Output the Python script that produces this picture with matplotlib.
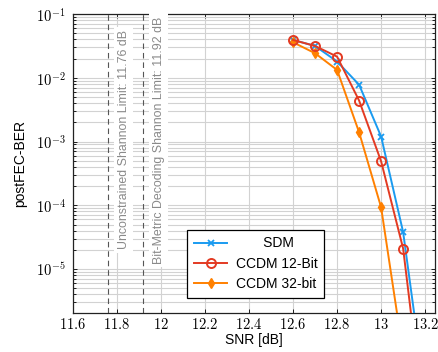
import matplotlib
matplotlib.use('Agg')
import matplotlib.pyplot as plt
import matplotlib.transforms as mtransforms
import numpy as np

# Data
snr = [12.6, 12.7, 12.8, 12.9, 13.0, 13.1, 13.2]
ber_sdm = [0.0393, 0.0316, 0.018, 0.0078, 0.0012, 3.8e-5, 1.1e-7]
ber_ccdm12 = [0.0393, 0.0316, 0.0215, 0.0044, 4.9e-4, 2.1e-5, 3e-8]
snr_ccdm32 = [12.6, 12.7, 12.8, 12.9, 13.0, 13.1]
ber_ccdm32 = [0.0361, 0.0243, 0.0133, 0.0014, 9.3e-5, 4.7e-7]

limits = [11.76, 11.92]
limit_labels = ['Unconstrained Shannon Limit: 11.76 dB',
                'Bit-Metric Decoding Shannon Limit: 11.92 dB']

xticks = [11.6, 11.8, 12.0, 12.2, 12.4, 12.6, 12.8, 13.0, 13.2]
xticklabels = ['11.6', '11.8', '12', '12.2', '12.4', '12.6', '12.8', '13', '13.2']
yticks = [1e-5, 1e-4, 1e-3, 1e-2, 1e-1]
yticklabels = [r'$10^{-5}$', r'$10^{-4}$', r'$10^{-3}$', r'$10^{-2}$', r'$10^{-1}$']

plt.rcParams['font.family'] = ['Liberation Sans', 'DejaVu Sans']
plt.rcParams['mathtext.fontset'] = 'cm'

fig = plt.figure(figsize=(4.39, 3.52), dpi=100)
ax = fig.add_axes([0.166, 0.111, 0.825, 0.849])

c_sdm = '#1a9bf0'
c_12 = '#e33a22'
c_32 = '#ff8000'

l1, = ax.plot(snr, ber_sdm, color=c_sdm, lw=1.4, marker='x', ms=4.5, mew=1.3,
              label='SDM', zorder=4)
l3, = ax.plot(snr_ccdm32, ber_ccdm32, color=c_32, lw=1.4, marker='d', ms=5,
              label='CCDM 32-bit', zorder=4)
l2, = ax.plot(snr, ber_ccdm12, color=c_12, lw=1.4, marker='o', ms=6.5, mew=1.4,
              mfc='none', label='CCDM 12-Bit', zorder=5)

# Shannon limits
trans = mtransforms.blended_transform_factory(ax.transData, ax.transAxes)
for x, txt in zip(limits, limit_labels):
    ax.axvline(x, color='#555555', lw=0.8, ls=(0, (5, 3.5)), zorder=2)
    ax.text(x + 0.07, 0.579, txt, transform=trans, rotation=90,
            ha='center', va='center', fontsize=8.9, color='#8a8a8a', zorder=3,
            bbox=dict(facecolor='white', edgecolor='none', pad=2.5))

ax.set_yscale('log')
ax.set_xlim(11.6, 13.245)
ax.set_ylim(2.05e-6, 0.1)

ax.set_xticks(xticks)
ax.set_xticklabels(['$' + s + '$' for s in xticklabels], fontsize=10.5)
ax.set_yticks(yticks)
ax.set_yticklabels(yticklabels, fontsize=10.5)

ax.grid(True, which='major', color='#d2d2d2', lw=0.8, zorder=1)
ax.grid(True, which='minor', axis='y', color='#d2d2d2', lw=0.8, zorder=1)
ax.set_axisbelow(True)
ax.tick_params(which='both', direction='in', top=True, right=True, length=3, width=0.6)
ax.tick_params(axis='x', which='both', length=3, pad=3)
ax.tick_params(axis='y', which='minor', length=2)
ax.tick_params(axis='y', pad=5)
for s in ax.spines.values():
    s.set_linewidth(0.9)
    s.set_color('#222222')

ax.set_xlabel('SNR [dB]', fontsize=10, labelpad=1)
ax.set_ylabel('postFEC-BER', fontsize=10, labelpad=6)

leg = ax.legend([l1, l2, l3], ['       SDM', 'CCDM 12-Bit', 'CCDM 32-bit'],
                loc='lower left', bbox_to_anchor=(0.296, 0.027), fontsize=10,
                numpoints=1, handlelength=2.4, fancybox=False, framealpha=1,
                edgecolor='black', borderpad=0.5, labelspacing=0.45,
                handletextpad=0.6)
leg.get_frame().set_linewidth(0.9)
leg.set_zorder(10)

fig.savefig('out.png', dpi=100)
